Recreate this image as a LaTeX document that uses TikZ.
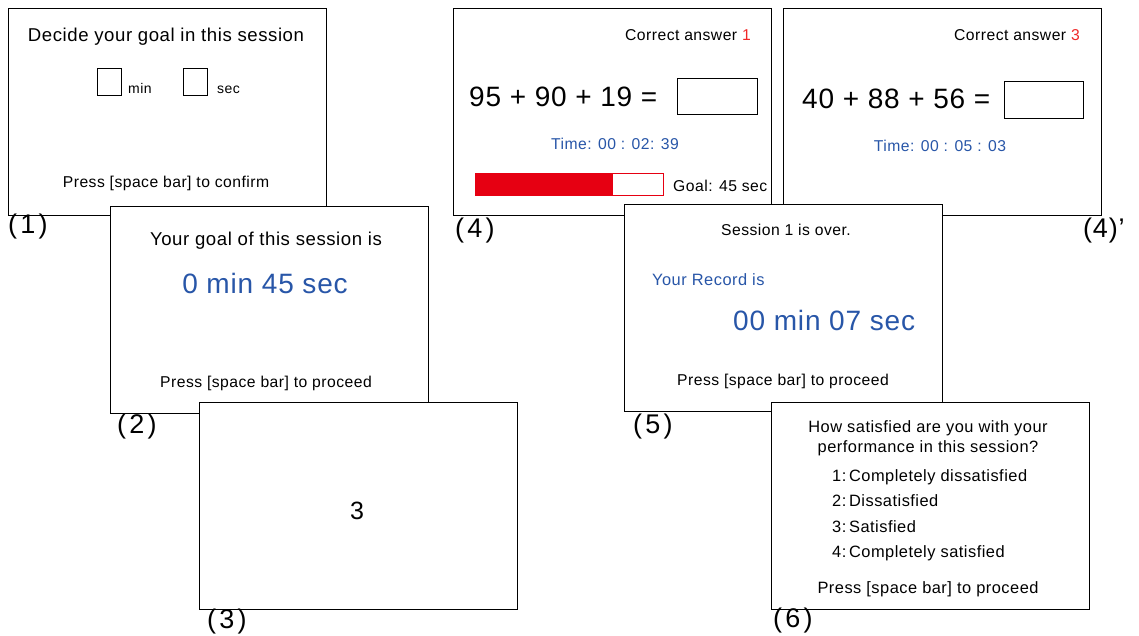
\documentclass[tikz,border=0pt]{standalone}
\usepackage{fontspec}
\setmainfont[LetterSpace=3]{Liberation Sans}
\definecolor{txtblue}{RGB}{40,86,168}
\definecolor{barred}{RGB}{230,0,18}
\definecolor{numred}{RGB}{240,40,40}
\begin{document}
\begin{tikzpicture}[x=1pt,y=-1pt,
  screen/.style={draw=black, line width=1pt, fill=white, minimum width=318pt, minimum height=207pt, inner sep=0pt},
  txt/.style={inner sep=0pt, anchor=base, font=\fontsize{15.7}{18}\selectfont},
  txtl/.style={txt, anchor=base west},
  txtr/.style={txt, anchor=base east},
  head/.style={font=\fontsize{18.6}{22}\selectfont},
  qtxt/.style={font=\fontsize{16.4}{19}\selectfont},
  big/.style={font=\fontsize{28}{32}\selectfont},
  lbl/.style={inner sep=0pt, anchor=base west, font=\fontsize{27}{30}\selectfont\addfontfeature{LetterSpace=12}},
  field/.style={draw=black, line width=1pt, inner sep=0pt}]
\useasboundingbox (0,0) rectangle (1139,635);

% (1) goal entry screen
\node[screen] (s1) at (167,111.5) {};
\node[txt, head] (s1title) at (166,41) {Decide your goal in this session};
\node[field, minimum width=24pt, minimum height=27pt] (minbox) at (109,81.5) {};
\node[txtl, font=\fontsize{14}{16}\selectfont] (minlbl) at (128,93) {min};
\node[field, minimum width=24pt, minimum height=27pt] (secbox) at (195,81.5) {};
\node[txtl, font=\fontsize{14}{16}\selectfont] (seclbl) at (217,93) {sec};
\node[txt] (s1press) at (166,187) {Press [space bar] to confirm};

% (4) first problem screen
\node[screen] (s4) at (612,112) {};
\node[txtr] (s4correct) at (751,40) {Correct answer \textcolor{numred}{1}};
\node[txtl, big] (s4sum) at (469,106) {95 + 90 + 19 =};
\node[field, minimum width=80pt, minimum height=36pt] (s4ans) at (717,96) {};
\node[txt, text=txtblue] (s4time) at (615,149) {Time: 00 : 02: 39};
\node[draw=barred, line width=0.8pt, fill=white, minimum width=188pt, minimum height=22pt, inner sep=0pt] (bar) at (569,184.5) {};
\fill[barred] (bar.north west) rectangle (613,195.5);
\node[txtl] (goal) at (673,191) {Goal: 45 sec};

% (4)' later problem screen
\node[screen] (s4b) at (942,111.5) {};
\node[txtr] (s4bcorrect) at (1080,40) {Correct answer \textcolor{numred}{3}};
\node[txtl, big] (s4bsum) at (802,108) {40 + 88 + 56 =};
\node[field, minimum width=79pt, minimum height=37pt] (s4bans) at (1043.5,99.5) {};
\node[txt, text=txtblue] (s4btime) at (940,151) {Time: 00 : 05 : 03};

% (2) goal confirmation screen
\node[screen] (s2) at (269,309.5) {};
\node[txt, head] (s2title) at (266,245) {Your goal of this session is};
\node[txt, big, text=txtblue] (s2goal) at (265,293) {0 min 45 sec};
\node[txt] (s2press) at (266,387) {Press [space bar] to proceed};

% (5) session result screen
\node[screen] (s5) at (783.5,307.5) {};
\node[txt] (s5title) at (786,235) {Session 1 is over.};
\node[txtl, qtxt, text=txtblue] (s5rec) at (652,285) {Your Record is};
\node[txtl, big, text=txtblue] (s5time) at (733,330) {00 min 07 sec};
\node[txt] (s5press) at (783,385) {Press [space bar] to proceed};

% (3) countdown screen
\node[screen] (s3) at (358,506) {};
\node[txt, font=\fontsize{25}{28}\selectfont] (count) at (357,519) {3};

% (6) satisfaction rating screen
\node[screen] (s6) at (930.5,506) {};
\node[txt, qtxt] (q1) at (928,432) {How satisfied are you with your};
\node[txt, qtxt] (q2) at (928,452) {performance in this session?};
\node[txtl, qtxt] (o1) at (832,481) {1:\,Completely dissatisfied};
\node[txtl, qtxt] (o2) at (832,506) {2:\,Dissatisfied};
\node[txtl, qtxt] (o3) at (832,532) {3:\,Satisfied};
\node[txtl, qtxt] (o4) at (832,557) {4:\,Completely satisfied};
\node[txt, qtxt] (s6press) at (928,593) {Press [space bar] to proceed};

% step labels
\node[lbl] (l1) at (8,233) {(1)};
\node[lbl] (l2) at (117,433) {(2)};
\node[lbl] (l3) at (207,628) {(3)};
\node[lbl] (l4) at (455,237) {(4)};
\node[lbl, font=\fontsize{27}{30}\selectfont] (l4b) at (1083,237) {(4)’};
\node[lbl] (l5) at (633,433) {(5)};
\node[lbl] (l6) at (773,627) {(6)};
\end{tikzpicture}
\end{document}
